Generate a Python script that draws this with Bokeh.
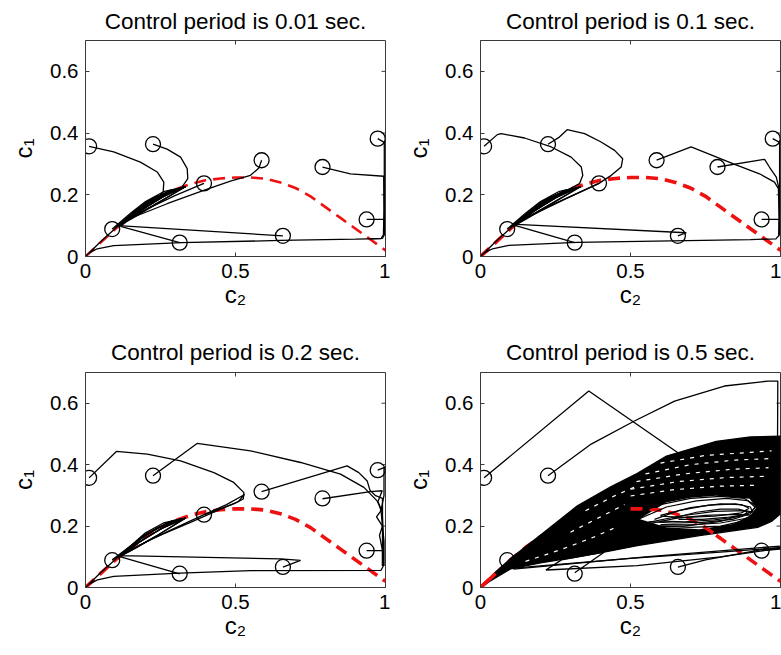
from bokeh.plotting import figure
from bokeh.layouts import column, row
from bokeh.models import Range1d, FixedTicker, CustomJSTickFormatter
from bokeh.embed import file_html
from bokeh.resources import INLINE

TITLES = ["Control period is 0.01 sec.", "Control period is 0.1 sec.",
          "Control period is 0.2 sec.", "Control period is 0.5 sec."]
X_TICKS = [0, 0.5, 1]
Y_TICKS = [0, 0.2, 0.4, 0.6]
X_LABEL = "c\u2082"
Y_LABEL = "c\u2081"
X_MAX = 1.0
Y_MAX = 0.7

# initial conditions (circles)
START_X = [0.012, 0.225, 0.587, 0.395, 0.79, 0.974, 0.937, 0.658, 0.314, 0.089]
START_Y = [0.357, 0.364, 0.312, 0.237, 0.29, 0.382, 0.12, 0.067, 0.045, 0.089]

# red dashed equilibrium curve
RED_X = [0, 0.05, 0.1, 0.15, 0.2, 0.25, 0.3, 0.35, 0.4, 0.45, 0.5, 0.55, 0.6, 0.65, 0.7,
         0.75, 0.8, 0.85, 0.9, 0.95, 1.0]
RED_Y = [0, 0.045, 0.09, 0.13, 0.165, 0.195, 0.218, 0.235, 0.247, 0.253, 0.256, 0.256,
         0.252, 0.24, 0.222, 0.195, 0.16, 0.125, 0.09, 0.055, 0.02]

# trajectories, control period 0.01 s
P1_XS = [
    [0.012, 0.094, 0.183, 0.239, 0.261, 0.259, 0.244, 0.18, 0.12, 0.2, 0.27, 0.333],
    [0.225, 0.272, 0.317, 0.339, 0.341, 0.322, 0.27, 0.2, 0.13, 0.21, 0.28, 0.333],
    [0.587, 0.578, 0.55, 0.483, 0.394, 0.272, 0.161, 0.1, 0.19, 0.27, 0.333],
    [0.395, 0.3, 0.2, 0.12, 0.2, 0.28, 0.333],
    [0.089, 0.15, 0.2, 0.26, 0.333, 0.25, 0.18, 0.11, 0.16, 0.22, 0.29, 0.333],
    [0.314, 0.117, 0.18, 0.26, 0.333, 0.24, 0.16, 0.11, 0.2, 0.28, 0.333],
    [0.658, 0.11, 0.17, 0.25, 0.333],
    [0.79, 0.883, 0.994, 0.995, 0.993, 0.985, 0.9, 0.65, 0.32, 0.094, 0.039, 0.01, 0.0,
     0.05, 0.15, 0.24, 0.333],
    [0.974, 0.996, 0.996, 0.996, 0.99, 0.95],
    [0.937, 0.995, 0.995],
]
P1_YS = [
    [0.357, 0.339, 0.306, 0.274, 0.241, 0.209, 0.193, 0.155, 0.108, 0.168, 0.205, 0.226],
    [0.364, 0.348, 0.322, 0.285, 0.252, 0.226, 0.2, 0.16, 0.112, 0.172, 0.208, 0.226],
    [0.312, 0.287, 0.263, 0.244, 0.214, 0.171, 0.128, 0.095, 0.165, 0.207, 0.226],
    [0.237, 0.198, 0.152, 0.105, 0.16, 0.205, 0.226],
    [0.089, 0.14, 0.178, 0.21, 0.226, 0.18, 0.14, 0.1, 0.143, 0.185, 0.215, 0.226],
    [0.045, 0.098, 0.145, 0.195, 0.226, 0.172, 0.126, 0.098, 0.175, 0.214, 0.226],
    [0.067, 0.1, 0.14, 0.19, 0.226],
    [0.29, 0.268, 0.26, 0.15, 0.07, 0.058, 0.056, 0.052, 0.045, 0.035, 0.025, 0.01, 0.0,
     0.048, 0.135, 0.195, 0.226],
    [0.382, 0.37, 0.2, 0.07, 0.059, 0.057],
    [0.12, 0.12, 0.07],
]

# trajectories, control period 0.1 s
P2_XS = [
    [0.012, 0.056, 0.069, 0.147, 0.236, 0.302, 0.336, 0.341, 0.33, 0.302, 0.2, 0.12, 0.2, 0.27, 0.333],
    [0.225, 0.263, 0.289, 0.347, 0.402, 0.447, 0.474, 0.469, 0.436, 0.395, 0.28, 0.16, 0.1,
     0.19, 0.27, 0.333],
    [0.587, 0.702, 0.841, 0.93, 0.98, 0.993, 0.996, 0.994],
    [0.395, 0.3, 0.2, 0.12, 0.2, 0.28, 0.333],
    [0.089, 0.15, 0.2, 0.26, 0.333, 0.25, 0.18, 0.11, 0.16, 0.22, 0.29, 0.333],
    [0.314, 0.117, 0.18, 0.26, 0.333, 0.24, 0.16, 0.11, 0.2, 0.28, 0.333],
    [0.658, 0.686, 0.12, 0.17, 0.25, 0.333],
    [0.79, 0.947, 0.963, 0.986, 0.995, 0.996, 0.985, 0.9, 0.53, 0.32, 0.094, 0.04, 0.01, 0.0,
     0.05, 0.15, 0.24, 0.333],
    [0.974, 0.997, 0.997],
    [0.937, 0.996, 0.996],
]
P2_YS = [
    [0.357, 0.395, 0.398, 0.384, 0.355, 0.322, 0.29, 0.263, 0.236, 0.222, 0.165, 0.108, 0.168, 0.205, 0.226],
    [0.364, 0.387, 0.411, 0.398, 0.371, 0.344, 0.317, 0.29, 0.263, 0.237, 0.185, 0.128, 0.095,
     0.165, 0.207, 0.226],
    [0.312, 0.355, 0.301, 0.268, 0.241, 0.22, 0.12, 0.065],
    [0.237, 0.195, 0.15, 0.105, 0.162, 0.206, 0.226],
    [0.089, 0.14, 0.178, 0.21, 0.226, 0.18, 0.14, 0.1, 0.143, 0.185, 0.215, 0.226],
    [0.045, 0.1, 0.148, 0.196, 0.226, 0.172, 0.126, 0.098, 0.175, 0.214, 0.226],
    [0.067, 0.077, 0.104, 0.142, 0.19, 0.226],
    [0.29, 0.315, 0.29, 0.257, 0.22, 0.07, 0.057, 0.055, 0.049, 0.046, 0.036, 0.025, 0.01, 0.0,
     0.048, 0.135, 0.195, 0.226],
    [0.382, 0.37, 0.07],
    [0.12, 0.12, 0.07],
]

# trajectories, control period 0.2 s
P3_XS = [
    [0.012, 0.103, 0.206, 0.317, 0.428, 0.494, 0.528, 0.526, 0.494, 0.395, 0.28, 0.16, 0.1,
     0.19, 0.27, 0.333],
    [0.225, 0.372, 0.55, 0.717, 0.85, 0.928, 0.972, 0.989, 0.993, 0.993],
    [0.587, 0.872, 0.911, 0.939, 0.948, 0.967, 0.99, 0.99],
    [0.395, 0.47, 0.52, 0.53, 0.51, 0.45, 0.35, 0.22, 0.12, 0.2, 0.28, 0.333],
    [0.79, 0.95, 0.989, 0.975, 0.985, 0.97, 0.99, 0.98, 0.99, 0.99],
    [0.974, 0.995, 0.995, 0.985, 0.995, 0.995],
    [0.937, 0.99],
    [0.658, 0.717, 0.65, 0.117, 0.17, 0.25, 0.333, 0.24, 0.15, 0.11, 0.19, 0.28, 0.333],
    [0.314, 0.117, 0.18, 0.26, 0.333, 0.25, 0.17, 0.12, 0.2, 0.29, 0.333],
    [0.089, 0.15, 0.2, 0.26, 0.333],
    [0.993, 0.985, 0.55, 0.314, 0.094, 0.04, 0.01, 0.0, 0.05, 0.15, 0.24, 0.333],
]
P3_YS = [
    [0.357, 0.443, 0.434, 0.412, 0.374, 0.342, 0.309, 0.288, 0.272, 0.237, 0.185, 0.128, 0.095,
     0.165, 0.207, 0.226],
    [0.364, 0.469, 0.445, 0.407, 0.369, 0.326, 0.282, 0.25, 0.15, 0.07],
    [0.312, 0.396, 0.374, 0.347, 0.317, 0.299, 0.29, 0.07],
    [0.237, 0.27, 0.297, 0.303, 0.28, 0.255, 0.212, 0.158, 0.105, 0.162, 0.206, 0.226],
    [0.289, 0.312, 0.315, 0.28, 0.25, 0.23, 0.2, 0.17, 0.12, 0.07],
    [0.382, 0.39, 0.3, 0.25, 0.15, 0.07],
    [0.12, 0.12],
    [0.066, 0.088, 0.093, 0.104, 0.142, 0.19, 0.226, 0.17, 0.12, 0.1, 0.168, 0.214, 0.226],
    [0.044, 0.1, 0.148, 0.196, 0.226, 0.176, 0.13, 0.104, 0.172, 0.218, 0.226],
    [0.09, 0.135, 0.178, 0.21, 0.226],
    [0.07, 0.056, 0.055, 0.047, 0.036, 0.025, 0.01, 0.0, 0.048, 0.135, 0.195, 0.226],
]

# control period 0.5 s: dense oscillating mass (outline), its inner gap, loops and streaks
MASS_X = [0, 0.05, 0.101, 0.212, 0.323, 0.434, 0.523, 0.62, 0.786, 0.9, 1.0, 1.0, 0.97,
          0.924, 0.73, 0.523, 0.412, 0.313, 0.2, 0.101, 0.03]
MASS_Y = [0, 0.05, 0.095, 0.18, 0.266, 0.328, 0.372, 0.428, 0.476, 0.49, 0.493, 0.24, 0.215,
          0.196, 0.169, 0.136, 0.115, 0.098, 0.08, 0.061, 0.02]
HOLE_X = [0.53, 0.619, 0.7, 0.786, 0.897, 0.919, 0.9, 0.841, 0.73, 0.619]
HOLE_Y = [0.223, 0.277, 0.292, 0.299, 0.289, 0.26, 0.235, 0.207, 0.19, 0.196]
LOOP_XS = [
    [0.53, 0.62, 0.72, 0.82, 0.89, 0.915, 0.9, 0.84, 0.74, 0.64, 0.56],
    [0.58, 0.66, 0.76, 0.85, 0.9, 0.905, 0.87, 0.78, 0.68, 0.6],
    [0.64, 0.72, 0.8, 0.86, 0.89, 0.88, 0.82, 0.74, 0.66],
    [0.55, 0.65, 0.75, 0.85, 0.91, 0.9, 0.8, 0.7, 0.6],
    [0.5, 0.6, 0.7, 0.8, 0.88, 0.92, 0.9, 0.8, 0.68, 0.56, 0.5],
    [0.6, 0.7, 0.8, 0.87, 0.895, 0.87, 0.78, 0.68, 0.6],
    [0.56, 0.66, 0.78, 0.88, 0.92, 0.9, 0.8, 0.7, 0.6],
]
LOOP_YS = [
    [0.224, 0.262, 0.282, 0.29, 0.283, 0.262, 0.24, 0.222, 0.212, 0.21, 0.214],
    [0.222, 0.25, 0.268, 0.272, 0.262, 0.248, 0.232, 0.22, 0.214, 0.216],
    [0.225, 0.245, 0.255, 0.255, 0.247, 0.237, 0.228, 0.222, 0.222],
    [0.205, 0.225, 0.235, 0.238, 0.235, 0.222, 0.2, 0.196, 0.2],
    [0.235, 0.27, 0.29, 0.297, 0.29, 0.265, 0.245, 0.215, 0.2, 0.2, 0.21],
    [0.235, 0.26, 0.272, 0.27, 0.258, 0.243, 0.232, 0.228, 0.232],
    [0.212, 0.232, 0.248, 0.25, 0.244, 0.228, 0.21, 0.204, 0.205],
]
STREAK_XS = [
    [0.6, 0.75, 0.9, 0.97],
    [0.55, 0.7, 0.85, 0.97],
    [0.52, 0.68, 0.84, 0.96],
    [0.5, 0.66, 0.82, 0.95],
    [0.5, 0.64, 0.8, 0.93],
    [0.15, 0.27, 0.38, 0.46],
    [0.3, 0.4, 0.48],
    [0.35, 0.45, 0.52],
]
STREAK_YS = [
    [0.405, 0.43, 0.44, 0.445],
    [0.37, 0.4, 0.415, 0.42],
    [0.345, 0.37, 0.385, 0.39],
    [0.32, 0.345, 0.358, 0.362],
    [0.298, 0.318, 0.33, 0.333],
    [0.085, 0.124, 0.165, 0.2],
    [0.18, 0.23, 0.27],
    [0.25, 0.3, 0.33],
]
P4_XS = [
    [0.012, 0.361, 0.658],
    [0.225, 0.369, 0.513, 0.647, 0.813, 0.958, 0.991, 0.99],
    [0.314, 0.412, 0.27, 0.218, 0.523, 0.8, 1.0],
    [0.658, 0.75, 0.938, 1.0],
    [0.937, 1.0],
    [0.1, 0.5, 0.8, 1.0],
    [0.11, 0.55, 1.0],
    [0.97, 0.94, 0.92],
]
P4_YS = [
    [0.357, 0.64, 0.439],
    [0.364, 0.467, 0.542, 0.607, 0.656, 0.672, 0.672, 0.45],
    [0.048, 0.115, 0.09, 0.057, 0.071, 0.1, 0.128],
    [0.066, 0.09, 0.123, 0.13],
    [0.12, 0.125],
    [0.062, 0.095, 0.115, 0.13],
    [0.06, 0.1, 0.135],
    [0.27, 0.25, 0.235],
]

FONT = "Liberation Sans"
AX_COLOR = "#3a3a3a"
RED = "#ee1111"
TICK_PX = 4


def style_axis(ax, ticks, label):
    ax.ticker = FixedTicker(ticks=ticks)
    ax.formatter = CustomJSTickFormatter(code="return tick.toString();")
    ax.axis_line_color = AX_COLOR
    ax.major_tick_line_color = AX_COLOR
    ax.major_tick_in = TICK_PX
    ax.major_tick_out = 0
    ax.minor_tick_line_color = None
    ax.major_label_text_font = FONT
    ax.major_label_text_font_size = "20.5px"
    ax.major_label_text_color = "black"
    ax.axis_label = label
    ax.axis_label_text_font = FONT
    ax.axis_label_text_font_size = "24px"
    ax.axis_label_text_font_style = "normal"
    ax.axis_label_text_color = "black"


def make_panel(title, b_left, b_right, b_top, frame_h, b_bottom, red_w, title_gap):
    p = figure(frame_width=300, frame_height=frame_h, x_range=Range1d(0, X_MAX),
               y_range=Range1d(0, Y_MAX), output_backend="svg", toolbar_location=None,
               min_border_left=b_left, min_border_right=b_right, min_border_top=b_top,
               min_border_bottom=b_bottom)
    p.title.text = title
    p.title.align = "center"
    p.title.text_font = FONT
    p.title.text_font_size = "22.5px"
    p.title.text_font_style = "normal"
    p.title.text_color = "black"
    p.title.standoff = title_gap
    p.xgrid.visible = False
    p.ygrid.visible = False
    p.outline_line_color = AX_COLOR
    style_axis(p.xaxis[0], X_TICKS, X_LABEL)
    style_axis(p.yaxis[0], Y_TICKS, Y_LABEL)
    p.xaxis[0].major_label_standoff = 7
    p.xaxis[0].axis_label_standoff = 0
    p.yaxis[0].major_label_standoff = 7
    p.yaxis[0].axis_label_standoff = 10
    # mirrored inward ticks on the top and right frame edges
    dy = Y_MAX * TICK_PX / frame_h
    dx = X_MAX * TICK_PX / 300
    p.segment(x0=X_TICKS, y0=[Y_MAX] * len(X_TICKS), x1=X_TICKS,
              y1=[Y_MAX - dy] * len(X_TICKS), line_color=AX_COLOR, line_width=1)
    p.segment(x0=[X_MAX] * len(Y_TICKS), y0=Y_TICKS, x1=[X_MAX - dx] * len(Y_TICKS),
              y1=Y_TICKS, line_color=AX_COLOR, line_width=1)
    p.line(RED_X, RED_Y, line_color=RED, line_width=red_w, line_dash="12 7")
    p.scatter(START_X, START_Y, marker="circle", size=15, fill_color=None,
              line_color="black", line_width=1.3)
    return p


p1 = make_panel(TITLES[0], 85, 5, 40, 216, 72, 2.6, 13)
p1.multi_line(P1_XS, P1_YS, line_color="black", line_width=1.3)

p2 = make_panel(TITLES[1], 90, 1, 40, 216, 72, 3.6, 13)
p2.multi_line(P2_XS, P2_YS, line_color="black", line_width=1.3)

p3 = make_panel(TITLES[2], 85, 5, 44, 215, 68, 3.6, 16)
p3.multi_line(P3_XS, P3_YS, line_color="black", line_width=1.3)

p4 = make_panel(TITLES[3], 90, 1, 44, 215, 68, 3.6, 16)
p4.patch(MASS_X, MASS_Y, fill_color="black", line_color="black", line_width=1.3)
p4.patch(HOLE_X, HOLE_Y, fill_color="white", line_color=None)
p4.line(RED_X[10:17], RED_Y[10:17], line_color=RED, line_width=3.6, line_dash="12 7")
p4.line(RED_X[0:2], RED_Y[0:2], line_color=RED, line_width=3.6)
p4.multi_line(LOOP_XS, LOOP_YS, line_color="black", line_width=1.2)
p4.multi_line(STREAK_XS, STREAK_YS, line_color="white", line_width=1.2, line_dash="4 6")
p4.multi_line(P4_XS, P4_YS, line_color="black", line_width=1.3)

layout = column(row(p1, p2), row(p3, p4))
open("out.html", "w").write(file_html(layout, INLINE))
